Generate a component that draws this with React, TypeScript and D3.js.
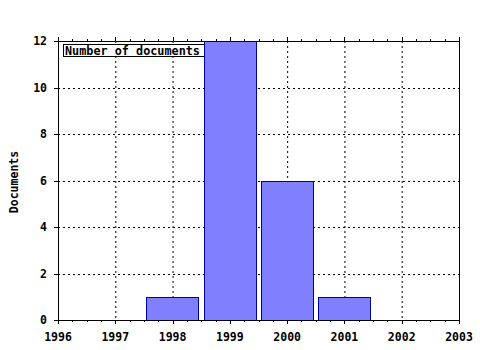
import React from "react";
import * as d3 from "d3";

const years = [1998, 1999, 2000, 2001];
const counts = [1, 12, 6, 1];
const xTicks = [1996, 1997, 1998, 1999, 2000, 2001, 2002, 2003];
const yTicks = [0, 2, 4, 6, 8, 10, 12];
const legendLabel = "Number of documents";
const yLabel = "Documents";

export default function App() {
  const W = 480, H = 350;
  const left = 58, right = 459, top = 41, bottom = 320;
  const x = d3.scaleLinear().domain([1996, 2003]).range([left, right]);
  const y = d3.scaleLinear().domain([0, 12]).range([bottom, top]);
  const bw = (x(1997) - x(1996)) * 0.9;
  const minor = d3.range(1996, 2003.001, 0.25);
  const font = "'DejaVu Sans Mono', monospace";
  return (
    <svg width={W} height={H} style={{ position: "absolute", left: 0, top: 0, background: "#fff" }}>
      <rect x={0} y={0} width={W} height={H} fill="#fff" />
      {xTicks.slice(1, -1).map((t) => (
        <line key={"gx" + t} x1={x(t) + 0.5} x2={x(t) + 0.5} y1={top} y2={bottom} stroke="#000" strokeDasharray="2,3" />
      ))}
      {yTicks.slice(1, -1).map((t) => (
        <line key={"gy" + t} x1={left} x2={right} y1={Math.round(y(t)) + 0.5} y2={Math.round(y(t)) + 0.5} stroke="#000" strokeDasharray="2,3" />
      ))}
      <rect x={63.5} y={44.5} width={150} height={12} fill="#fff" stroke="#000" />
      <text x={65} y={54.5} fontFamily={font} fontWeight="bold" fontSize={11.8}>{legendLabel}</text>
      {years.map((yr, i) => (
        <rect key={yr} x={Math.floor(x(yr) - bw / 2) + 0.5} y={Math.round(y(counts[i])) + 0.5}
          width={Math.round(bw)} height={Math.round(y(0)) - Math.round(y(counts[i]))}
          fill="#8080ff" stroke="#00009c" />
      ))}
      <rect x={left + 0.5} y={top + 0.5} width={right - left} height={bottom - top} fill="none" stroke="#000" />
      {minor.map((t) => {
        const major = Math.abs(t - Math.round(t)) < 1e-6;
        const px = Math.round(x(t)) + 0.5;
        return (
          <g key={"m" + t}>
            <line x1={px} x2={px} y1={bottom} y2={bottom + (major ? 4 : 2)} stroke="#000" />
            <line x1={px} x2={px} y1={top} y2={top - (major ? 4 : 2)} stroke="#000" />
          </g>
        );
      })}
      {yTicks.map((t) => (
        <line key={"yt" + t} x1={left - 4} x2={left} y1={Math.round(y(t)) + 0.5} y2={Math.round(y(t)) + 0.5} stroke="#000" />
      ))}
      {yTicks.map((t) => (
        <text key={"yl" + t} x={47} y={y(t) + 4} textAnchor="end" fontFamily={font} fontWeight="bold" fontSize={11.5}>{t}</text>
      ))}
      {xTicks.map((t) => (
        <text key={"xl" + t} x={x(t)} y={341} textAnchor="middle" fontFamily={font} fontWeight="bold" fontSize={11.5}>{t}</text>
      ))}
      <text transform={`translate(17.5,${182}) rotate(-90)`} textAnchor="middle" fontFamily={font} fontWeight="bold" fontSize={11.5}>{yLabel}</text>
    </svg>
  );
}
